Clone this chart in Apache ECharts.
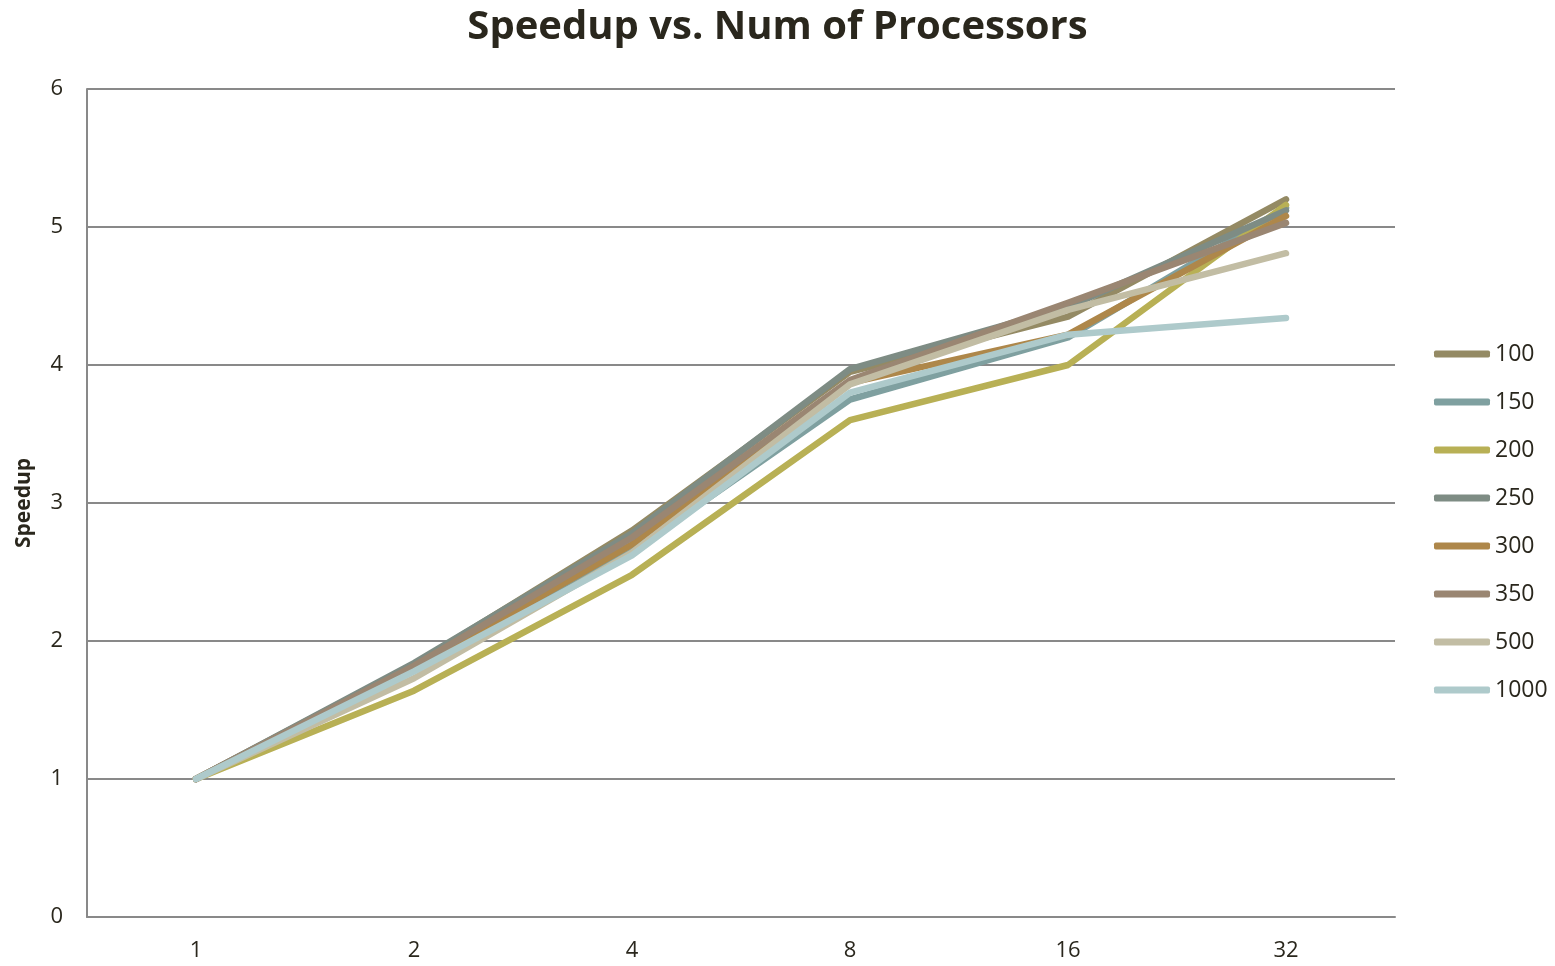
<!DOCTYPE html>
<html>
<head>
<meta charset="utf-8">
<script src="https://cdn.jsdelivr.net/npm/echarts@6/dist/echarts.min.js"></script>
<style>html,body{margin:0;padding:0;background:#fff}#c{width:1555px;height:966px}</style>
</head>
<body>
<div id="c"></div>
<script>
const categories = ['1', '2', '4', '8', '16', '32'];
const seriesNames = ['100', '150', '200', '250', '300', '350', '500', '1000'];
const s100  = [1, 1.83, 2.80, 3.95, 4.35, 5.20];
const s150  = [1, 1.80, 2.65, 3.75, 4.20, 5.14];
const s200  = [1, 1.64, 2.48, 3.60, 4.00, 5.16];
const s250  = [1, 1.84, 2.78, 3.97, 4.42, 5.12];
const s300  = [1, 1.80, 2.70, 3.87, 4.22, 5.08];
const s350  = [1, 1.82, 2.75, 3.89, 4.45, 5.03];
const s500  = [1, 1.73, 2.64, 3.86, 4.40, 4.81];
const s1000 = [1, 1.78, 2.62, 3.80, 4.22, 4.34];
const yTicks = [0, 1, 2, 3, 4, 5, 6];

const allData = [s100, s150, s200, s250, s300, s350, s500, s1000];
const colors = ['#948A64', '#7FA0A0', '#B8B055', '#7E8C84', '#AE874A', '#9A8672', '#C2BDA4', '#AECACB'];
const font = '"Open Sans", "Noto Sans", sans-serif';

const chart = echarts.init(document.getElementById('c'));
chart.setOption({
  animation: false,
  backgroundColor: '#fff',
  color: colors,
  title: {
    text: 'Speedup vs. Num of Processors',
    left: 'center',
    top: 3,
    textStyle: { fontFamily: font, fontSize: 40, fontWeight: 'bold', color: '#2A271D' }
  },
  grid: { left: 87, right: 160, top: 89, bottom: 49 },
  legend: {
    orient: 'vertical',
    left: 1429,
    top: 337,
    icon: 'roundRect',
    itemWidth: 56,
    itemHeight: 7,
    itemGap: 24,
    data: seriesNames,
    textStyle: { fontFamily: font, fontSize: 23, color: '#2A271D', lineHeight: 24 }
  },
  xAxis: {
    type: 'category',
    data: categories,
    boundaryGap: true,
    axisLine: { lineStyle: { color: '#898989', width: 2 } },
    axisTick: { show: false },
    axisLabel: { fontFamily: font, fontSize: 22, color: '#2A271D', margin: 23 }
  },
  yAxis: {
    type: 'value',
    min: yTicks[0],
    max: yTicks[yTicks.length - 1],
    interval: 1,
    name: 'Speedup',
    nameLocation: 'middle',
    nameGap: 52,
    nameTextStyle: { fontFamily: font, fontSize: 21, fontWeight: 'bold', color: '#2A271D' },
    axisLine: { show: true, lineStyle: { color: '#898989', width: 2 } },
    axisTick: { show: false },
    axisLabel: { fontFamily: font, fontSize: 22, color: '#2A271D', margin: 24 },
    splitLine: { lineStyle: { color: '#898989', width: 2 } }
  },
  series: seriesNames.map((n, i) => ({
    name: n,
    type: 'line',
    data: allData[i],
    showSymbol: false,
    symbol: 'none',
    lineStyle: { width: 6.5, cap: 'round', join: 'round' }
  }))
});
</script>
</body>
</html>
